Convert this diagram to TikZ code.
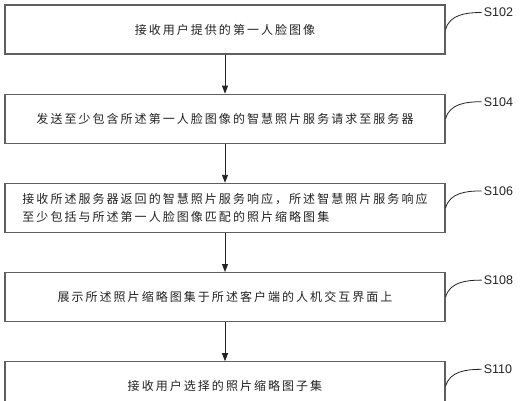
\documentclass[tikz,border=0pt]{standalone}
\usepackage{fontspec}
\usepackage{xcolor}
\usepackage{tikz}
\usetikzlibrary{arrows.meta,positioning}
\newfontfamily\cjk[LetterSpace=17]{Noto Sans CJK SC}
\newfontfamily\tagfont{Liberation Sans}
\definecolor{frame}{RGB}{95,95,95}
\definecolor{ink}{RGB}{35,35,35}

\begin{document}
\begin{tikzpicture}[x=1pt,y=1pt,
  stepbox/.style={draw=frame,line width=1.2pt,minimum width=440pt,minimum height=49pt,align=left,text=ink,font=\cjk\fontsize{12}{18}\selectfont},
  tag/.style={inner sep=2pt,text=ink,font=\tagfont\fontsize{12.5}{14}\selectfont},
  a/.style={-{Triangle[width=6pt,length=8pt]},line width=0.9pt,color=ink},
  lead/.style={line width=0.8pt,color=ink}]
  \path[use as bounding box,clip] (0,0) rectangle (522,-400);
  \fill[white] (0,0) rectangle (522,-400);
  \node[stepbox] (b1) at (225,-29.5) {接收用户提供的第一人脸图像};
  \node[stepbox,below=39pt of b1] (b2) {发送至少包含所述第一人脸图像的智慧照片服务请求至服务器};
  \node[stepbox,below=39pt of b2] (b3) {接收所述服务器返回的智慧照片服务响应，所述智慧照片服务响应\\至少包括与所述第一人脸图像匹配的照片缩略图集};
  \node[stepbox,below=39pt of b3] (b4) {展示所述照片缩略图集于所述客户端的人机交互界面上};
  \node[stepbox,below=39pt of b4] (b5) {接收用户选择的照片缩略图子集};
  \node[tag,above right=17pt and 36pt of b1.east,anchor=west] (t1) {S102};
  \node[tag,above right=17pt and 36pt of b2.east,anchor=west] (t2) {S104};
  \node[tag,above right=17pt and 36pt of b3.east,anchor=west] (t3) {S106};
  \node[tag,above right=17pt and 36pt of b4.east,anchor=west] (t4) {S108};
  \node[tag,above right=17pt and 36pt of b5.east,anchor=west] (t5) {S110};
  \draw[a] (b1)--(b2);
  \draw[a] (b2)--(b3);
  \draw[a] (b3)--(b4);
  \draw[a] (b4)--(b5);
  \draw[lead] (b1.east) to[out=75,in=180] (t1.west);
  \draw[lead] (b2.east) to[out=75,in=180] (t2.west);
  \draw[lead] (b3.east) to[out=75,in=180] (t3.west);
  \draw[lead] (b4.east) to[out=75,in=180] (t4.west);
  \draw[lead] (b5.east) to[out=75,in=180] (t5.west);
\end{tikzpicture}
\end{document}
